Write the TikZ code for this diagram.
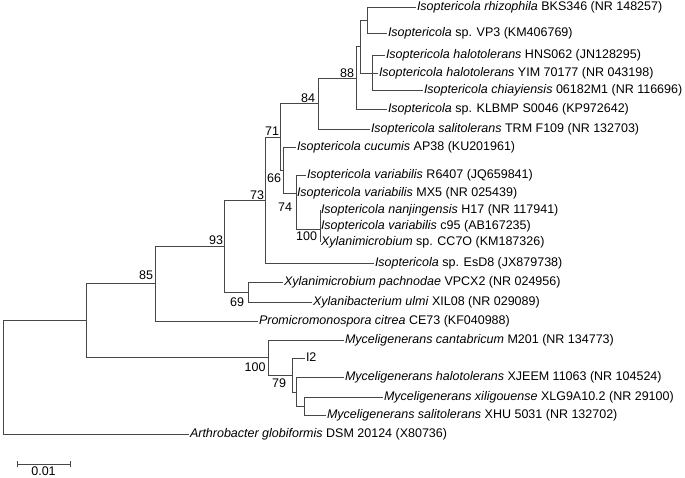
\documentclass[tikz,border=0pt]{standalone}
\usepackage{fontspec}
\setmainfont{Liberation Sans}
\begin{document}
\begin{tikzpicture}[x=1pt,y=-1pt,
  br/.style={draw=black!72, line width=0.8pt},
  leaf/.style={anchor=west, inner xsep=1pt, inner ysep=0pt, outer sep=0pt, text height=9pt, text depth=2.6pt, font=\fontsize{12.5}{14}\selectfont, text=black},
  bs/.style={anchor=base east, inner sep=0pt, outer sep=0pt, font=\fontsize{12.5}{14}\selectfont, text=black}]
\useasboundingbox (0,0) rectangle (685,478);

% internal nodes
\coordinate (nC) at (367,20.25);
\coordinate (nD) at (372,73);
\coordinate (nB) at (360,46.6);
\coordinate (n88) at (356,78);
\coordinate (n84) at (318,103.5);
\coordinate (n100b) at (320,229);
\coordinate (n74) at (296,193);
\coordinate (n66) at (283,170);
\coordinate (n71) at (280,137);
\coordinate (n73) at (265,200);
\coordinate (n69) at (248,292);
\coordinate (n93) at (224,246);
\coordinate (n85) at (155,283.5);
\coordinate (nF) at (304,406);
\coordinate (nE) at (296,392);
\coordinate (n79) at (292,375);
\coordinate (n100m) at (268,357.5);
\coordinate (nA) at (86,320.5);
\coordinate (root) at (3,377.25);

% leaves
\node[leaf] (l1) at (416,7.5) {\textit{Isoptericola rhizophila} BKS346 (NR 148257)};
\node[leaf] (l2) at (387,33) {\textit{Isoptericola} sp. VP3 (KM406769)};
\node[leaf] (l3) at (385,55.5) {\textit{Isoptericola halotolerans} HNS062 (JN128295)};
\node[leaf] (l4) at (378,73) {\textit{Isoptericola halotolerans} YIM 70177 (NR 043198)};
\node[leaf] (l5) at (423,90.5) {\textit{Isoptericola chiayiensis} 06182M1 (NR 116696)};
\node[leaf] (l6) at (387,109.5) {\textit{Isoptericola} sp. KLBMP S0046 (KP972642)};
\node[leaf] (l7) at (370,129) {\textit{Isoptericola salitolerans} TRM F109 (NR 132703)};
\node[leaf] (l8) at (296,147) {\textit{Isoptericola cucumis} AP38 (KU201961)};
\node[leaf] (l9) at (306,175) {\textit{Isoptericola variabilis} R6407 (JQ659841)};
\node[leaf] (l10) at (296,193) {\textit{Isoptericola variabilis} MX5 (NR 025439)};
\node[leaf] (l11) at (320,210) {\textit{Isoptericola nanjingensis} H17 (NR 117941)};
\node[leaf] (l12) at (320,226) {\textit{Isoptericola variabilis} c95 (AB167235)};
\node[leaf] (l13) at (320,242) {\textit{Xylanimicrobium} sp. CC7O (KM187326)};
\node[leaf] (l14) at (374,263) {\textit{Isoptericola} sp. EsD8 (JX879738)};
\node[leaf] (l15) at (283,282) {\textit{Xylanimicrobium pachnodae} VPCX2 (NR 024956)};
\node[leaf] (l16) at (312,302) {\textit{Xylanibacterium ulmi} XIL08 (NR 029089)};
\node[leaf] (l17) at (258,321) {\textit{Promicromonospora citrea} CE73 (KF040988)};
\node[leaf] (l18) at (344,340) {\textit{Myceligenerans cantabricum} M201 (NR 134773)};
\node[leaf] (l19) at (305,358) {I2};
\node[leaf] (l20) at (344,377.5) {\textit{Myceligenerans halotolerans} XJEEM 11063 (NR 104524)};
\node[leaf] (l21) at (383,397) {\textit{Myceligenerans xiligouense} XLG9A10.2 (NR 29100)};
\node[leaf] (l22) at (326,415.5) {\textit{Myceligenerans salitolerans} XHU 5031 (NR 132702)};
\node[leaf] (l23) at (189,434) {\textit{Arthrobacter globiformis} DSM 20124 (X80736)};

% branches
\draw[br] (nC) |- (l1.west);
\draw[br] (nC) |- (l2.west);
\draw[br] (nD) |- (l3.west);
\draw[br] (nD) |- (l4.west);
\draw[br] (nD) |- (l5.west);
\draw[br] (nB) |- (nC);
\draw[br] (nB) |- (nD);
\draw[br] (n88) |- (nB);
\draw[br] (n88) |- (l6.west);
\draw[br] (n84) |- (n88);
\draw[br] (n84) |- (l7.west);
\draw[br] (n100b) |- (l11.west);
\draw[br] (n100b) |- (l12.west);
\draw[br] (n100b) |- (l13.west);
\draw[br] (n74) |- (l9.west);
\draw[br] (n74) |- (l10.west);
\draw[br] (n74) |- (n100b);
\draw[br] (n66) |- (l8.west);
\draw[br] (n66) |- (n74);
\draw[br] (n71) |- (n84);
\draw[br] (n71) |- (n66);
\draw[br] (n73) |- (n71);
\draw[br] (n73) |- (l14.west);
\draw[br] (n69) |- (l15.west);
\draw[br] (n69) |- (l16.west);
\draw[br] (n93) |- (n73);
\draw[br] (n93) |- (n69);
\draw[br] (n85) |- (n93);
\draw[br] (n85) |- (l17.west);
\draw[br] (nF) |- (l21.west);
\draw[br] (nF) |- (l22.west);
\draw[br] (nE) |- (l20.west);
\draw[br] (nE) |- (nF);
\draw[br] (n79) |- (l19.west);
\draw[br] (n79) |- (nE);
\draw[br] (n100m) |- (l18.west);
\draw[br] (n100m) |- (n79);
\draw[br] (nA) |- (n85);
\draw[br] (nA) |- (n100m);
\draw[br] (root) |- (nA);
\draw[br] (root) |- (l23.west);

% bootstrap values
\node[bs] (b88) at (354,77.5) {88};
\node[bs] (b84) at (315,102.5) {84};
\node[bs] (b71) at (279,135.5) {71};
\node[bs] (b66) at (281,182.5) {66};
\node[bs] (b74) at (292,211.5) {74};
\node[bs] (b100b) at (317,240.5) {100};
\node[bs] (b73) at (264,199.5) {73};
\node[bs] (b93) at (223,244.5) {93};
\node[bs] (b69) at (244,306.5) {69};
\node[bs] (b85) at (153,279.5) {85};
\node[bs] (b100m) at (265.5,371.5) {100};
\node[bs] (b79) at (286,387.5) {79};

% scale bar
\draw[br] (17,461) -- (17,467) (17,464) -- (70,464) (70,461) -- (70,467);
\node[anchor=base, inner sep=0pt, font=\fontsize{12.5}{14}\selectfont] (sbt) at (43.5,475.5) {0.01};
\end{tikzpicture}
\end{document}
